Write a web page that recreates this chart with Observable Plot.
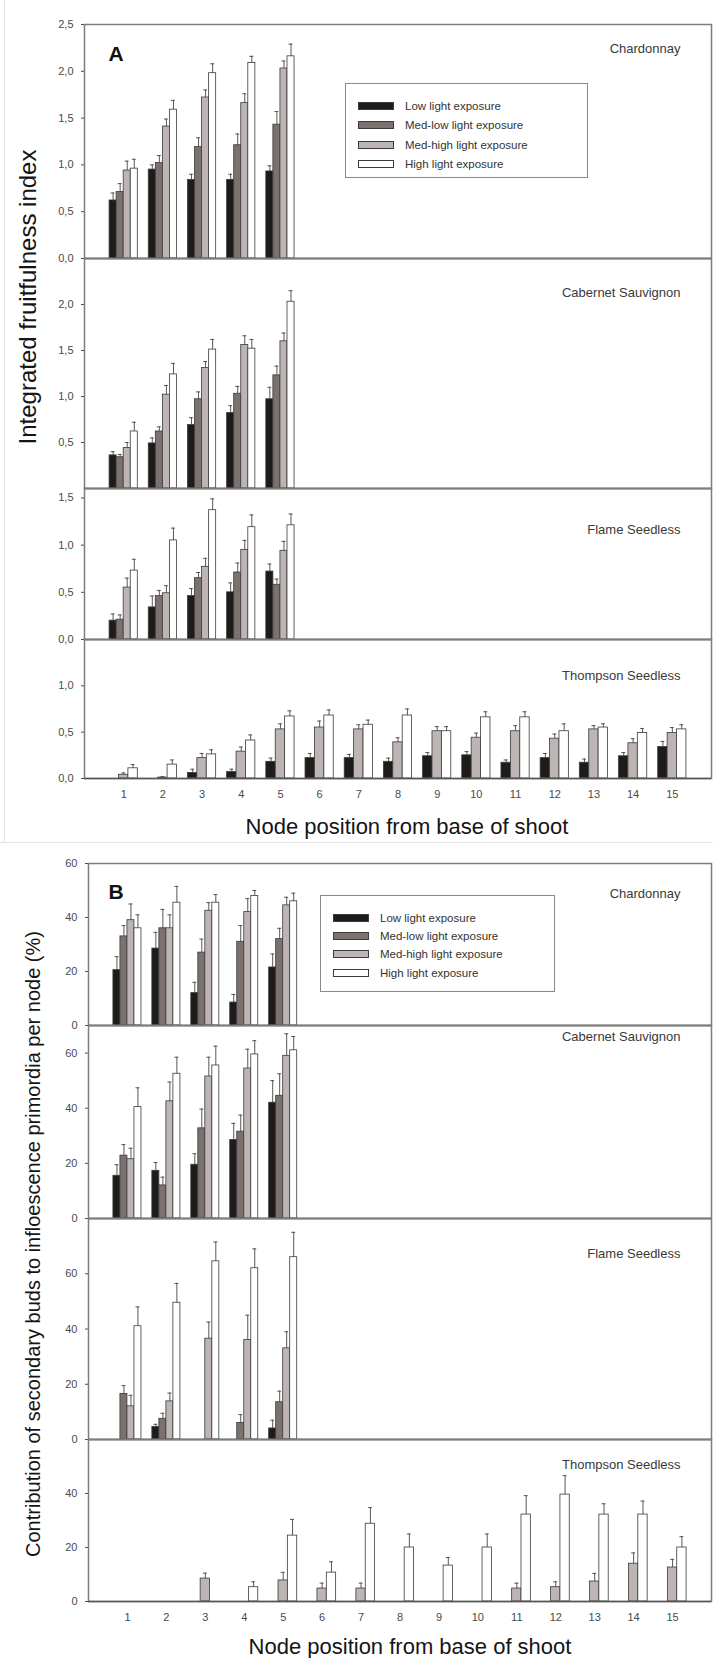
<!DOCTYPE html>
<html><head><meta charset="utf-8">
<script src="https://cdn.jsdelivr.net/npm/d3@7"></script>
<script src="https://cdn.jsdelivr.net/npm/@observablehq/plot@0.6"></script>
<style>
body{margin:0;background:#fff;font-family:"Liberation Sans",Arial,sans-serif;}
#page{position:relative;width:713px;height:1658px;overflow:hidden;background:#fff;}
.panel{position:absolute;left:0;}
.ytitle{position:absolute;white-space:nowrap;color:#151515;transform:translate(-50%,-50%) rotate(-90deg);}
.xtitle{position:absolute;white-space:nowrap;color:#151515;transform:translate(-50%,-50%);font-size:22px;}
.legend{position:absolute;border:1.5px solid #8a8a8a;background:#fff;box-sizing:border-box;}
.legend .item{position:absolute;left:12px;height:14px;display:flex;align-items:center;font-size:11.5px;color:#333;transform:translateY(-50%);}
.legend .sw{width:34px;height:6px;border:1px solid #3c3a3a;margin-right:11px;}
.sep{position:absolute;background:#e4e4e4;}
</style></head>
<body><div id="page"></div>
<script>
// ---------- data ----------
const seriesNames = ["Low light exposure","Med-low light exposure","Med-high light exposure","High light exposure"];
const seriesColors = ["#1e1b1b","#7b7270","#bdb5b3","#ffffff"];
const allSeries = [0,1,2,3];
const thompsonSeries = [0,2,3];
const nodesA = [1,2,3,4,5];
const nodesAll = [1,2,3,4,5,6,7,8,9,10,11,12,13,14,15];

// Figure A: integrated fruitfulness index
const aChardonnay = [
  [0.62,0.95,0.84,0.84,0.93],
  [0.71,1.02,1.19,1.21,1.43],
  [0.94,1.41,1.72,1.66,2.03],
  [0.96,1.59,1.98,2.09,2.16]];
const aChardonnayErr = [
  [0.08,0.05,0.06,0.06,0.06],
  [0.09,0.08,0.10,0.12,0.14],
  [0.10,0.08,0.08,0.10,0.08],
  [0.10,0.10,0.10,0.07,0.13]];
const aCabernet = [
  [0.36,0.49,0.69,0.82,0.97],
  [0.34,0.62,0.97,1.03,1.23],
  [0.44,1.02,1.31,1.56,1.60],
  [0.62,1.24,1.51,1.52,2.03]];
const aCabernetErr = [
  [0.04,0.06,0.08,0.08,0.13],
  [0.03,0.05,0.08,0.08,0.10],
  [0.06,0.10,0.07,0.10,0.09],
  [0.10,0.12,0.11,0.10,0.12]];
const aFlame = [
  [0.20,0.34,0.46,0.50,0.72],
  [0.21,0.46,0.65,0.71,0.58],
  [0.55,0.49,0.77,0.95,0.94],
  [0.73,1.05,1.37,1.19,1.21]];
const aFlameErr = [
  [0.07,0.12,0.08,0.10,0.08],
  [0.05,0.06,0.06,0.10,0.06],
  [0.10,0.08,0.09,0.10,0.10],
  [0.12,0.13,0.12,0.13,0.12]];
const aThompson = [
  [0,0,0.06,0.07,0.18,0.22,0.22,0.18,0.24,0.25,0.17,0.22,0.17,0.24,0.34],
  [0.04,0.01,0.22,0.29,0.53,0.55,0.53,0.39,0.51,0.44,0.51,0.43,0.53,0.38,0.49],
  [0.11,0.15,0.26,0.41,0.67,0.68,0.58,0.68,0.51,0.66,0.66,0.51,0.55,0.49,0.53]];
const aThompsonErr = [
  [0,0,0.04,0.03,0.04,0.05,0.04,0.04,0.04,0.04,0.03,0.05,0.04,0.04,0.06],
  [0.02,0.01,0.05,0.05,0.06,0.07,0.05,0.05,0.05,0.05,0.06,0.05,0.04,0.05,0.06],
  [0.04,0.05,0.05,0.06,0.06,0.06,0.05,0.07,0.05,0.06,0.06,0.08,0.04,0.05,0.05]];

// Figure B: contribution of secondary buds (%)
const bChardonnay = [
  [20.5,28.5,12,8.5,21.5],
  [33,36,27,31,32],
  [39,36,42.5,42,44.5],
  [36,45.5,45.5,48,46]];
const bChardonnayErr = [
  [5,6,4,3,5],
  [4,7,5,6,4],
  [6,5,3,5,3],
  [5,6,3,2,3]];
const bCabernet = [
  [15.5,17.3,19.5,28.5,42],
  [22.8,12,32.7,31.5,44.5],
  [21.5,42.5,51.5,54.4,59],
  [40.4,52.5,55.5,59.5,61]];
const bCabernetErr = [
  [4,3,4,6,8],
  [4,3,7,6,8],
  [4,7,7,7,8],
  [7,6,7,5,5]];
const bFlame = [
  [0,4.5,0,0,4],
  [16.5,7.5,0,6,13.5],
  [12,13.8,36.5,36,33],
  [41,49.5,64.5,62,66]];
const bFlameErr = [
  [0,1,0,0,3],
  [3,2,0,3,4],
  [4,3,6,9,6],
  [7,7,7,7,9]];
const bThompson = [
  [0,0,0,0,0,0,0,0,0,0,0,0,0,0,0],
  [0,0,8.5,0,7.8,4.8,4.8,0,0,0,4.8,5.3,7.4,14,12.6],
  [0,0,0,5.3,24.4,10.7,28.8,20,13.3,20,32.2,39.6,32.2,32.2,20]];
const bThompsonErr = [
  [0,0,0,0,0,0,0,0,0,0,0,0,0,0,0],
  [0,0,2,0,3,2,2,0,0,0,2,2,3,4,3],
  [0,0,0,2,6,4,6,5,3,5,7,7,4,5,4]];

const ticksA1 = [0,0.5,1,1.5,2,2.5];
const ticksA2 = [0.5,1,1.5,2];
const ticksA3 = [0,0.5,1,1.5];
const ticksA4 = [0,0.5,1];
const ticksB123 = [0,20,40,60];
const ticksB4 = [0,20,40];

const yTitleA = "Integrated fruitfulness index";
const yTitleB = "Contribution of secondary buds to infloescence primordia per node (%)";
const xTitle = "Node position from base of shoot";

// ---------- drawing ----------
const page = document.getElementById("page");
const fmtComma = d => d3.format(".1f")(d).replace(".", ",");
const fmtInt = d3.format("d");

function buildRows(values, errors, idx, nodes) {
  const n = idx.length, w = n === 4 ? 0.18 : 0.24;
  const rows = [];
  values.forEach((arr, k) => arr.forEach((v, i) => {
    const node = nodes[i];
    const x1 = node - n * w / 2 + k * w;
    rows.push({node, series: seriesNames[idx[k]], v, e: errors[k][i], x1, x2: x1 + w, xc: x1 + w / 2});
  }));
  return rows.filter(d => d.v > 0);
}

function drawPanel(c) {
  const mt = 6, mb = c.xAxis ? 34 : 6;
  const height = c.frameBottom - c.frameTop + mt + mb;
  const rows = buildRows(c.values, c.errors, c.idx, c.nodes);
  const errs = rows.filter(d => d.e > 0);
  const chart = Plot.plot({
    width: 713, height,
    marginLeft: c.marginLeft, marginRight: 2, marginTop: mt, marginBottom: mb,
    x: {domain: [0, 16], axis: null, label: null},
    y: {domain: c.yDomain, label: null},
    color: {domain: seriesNames, range: seriesColors},
    style: {fontFamily: "Liberation Sans, Arial, sans-serif", fontSize: "11px", color: "#4a4a4a", background: "transparent", overflow: "visible"},
    marks: [
      Plot.rectY(rows, {x1: "x1", x2: "x2", y1: 0, y2: "v", fill: "series", stroke: "#3c3a3a", strokeWidth: 0.8}),
      Plot.ruleX(errs, {x: "xc", y1: "v", y2: d => d.v + d.e, stroke: "#444", strokeWidth: 0.9}),
      Plot.ruleY(errs, {y: d => d.v + d.e, x1: d => d.xc - 0.05, x2: d => d.xc + 0.05, stroke: "#444", strokeWidth: 0.9}),
      Plot.axisY({ticks: c.yTicks, tickFormat: c.fmt, tickSize: 3, tickPadding: 8, fontSize: 11, label: null}),
      c.xAxis ? Plot.axisX({ticks: c.nodes, tickFormat: fmtInt, tickSize: 0, tickPadding: 12, fontSize: 11, label: null}) : null,
      Plot.frame({stroke: "#7d7d7d", strokeWidth: 1.5}),
      Plot.ruleY([0], {stroke: "#555", strokeWidth: 1.6}),
      Plot.text([c.title], {frameAnchor: "top-right", dx: -31, dy: c.titleDy, fontSize: 13, fill: "#3a3a3a"}),
      c.letter ? Plot.text([c.letter], {frameAnchor: "top-left", dx: c.letterDx, dy: c.letterDy, fontSize: 21, fontWeight: "bold", fill: "#111"}) : null
    ]
  });
  const div = document.createElement("div");
  div.className = "panel";
  div.style.top = (c.frameTop - mt) + "px";
  div.appendChild(chart);
  page.appendChild(div);
}

// separators
function sep(left, top, w, h) {
  const d = document.createElement("div"); d.className = "sep";
  Object.assign(d.style, {left: left + "px", top: top + "px", width: w + "px", height: h + "px"});
  page.appendChild(d);
}
sep(0, 842, 713, 1);
sep(4, 0, 1, 842);

// Figure A
drawPanel({values: aChardonnay, errors: aChardonnayErr, idx: allSeries, nodes: nodesA, yDomain: [0, 2.5], yTicks: ticksA1, fmt: fmtComma, frameTop: 24, frameBottom: 258, marginLeft: 84, title: "Chardonnay", titleDy: 19, letter: "A", letterDx: 24, letterDy: 22});
drawPanel({values: aCabernet, errors: aCabernetErr, idx: allSeries, nodes: nodesA, yDomain: [0, 2.5], yTicks: ticksA2, fmt: fmtComma, frameTop: 258, frameBottom: 488, marginLeft: 84, title: "Cabernet Sauvignon", titleDy: 29});
drawPanel({values: aFlame, errors: aFlameErr, idx: allSeries, nodes: nodesA, yDomain: [0, 1.6], yTicks: ticksA3, fmt: fmtComma, frameTop: 488, frameBottom: 639, marginLeft: 84, title: "Flame Seedless", titleDy: 36});
drawPanel({values: aThompson, errors: aThompsonErr, idx: thompsonSeries, nodes: nodesAll, yDomain: [0, 1.5], yTicks: ticksA4, fmt: fmtComma, frameTop: 639, frameBottom: 778, marginLeft: 84, title: "Thompson Seedless", titleDy: 31, xAxis: true});

// Figure B
drawPanel({values: bChardonnay, errors: bChardonnayErr, idx: allSeries, nodes: nodesA, yDomain: [0, 60], yTicks: ticksB123, fmt: fmtInt, frameTop: 863, frameBottom: 1025, marginLeft: 88, title: "Chardonnay", titleDy: 25, letter: "B", letterDx: 20, letterDy: 21});
drawPanel({values: bCabernet, errors: bCabernetErr, idx: allSeries, nodes: nodesA, yDomain: [0, 70], yTicks: ticksB123, fmt: fmtInt, frameTop: 1025, frameBottom: 1218, marginLeft: 88, title: "Cabernet Sauvignon", titleDy: 6});
drawPanel({values: bFlame, errors: bFlameErr, idx: allSeries, nodes: nodesA, yDomain: [0, 80], yTicks: ticksB123, fmt: fmtInt, frameTop: 1218, frameBottom: 1439, marginLeft: 88, title: "Flame Seedless", titleDy: 30});
drawPanel({values: bThompson, errors: bThompsonErr, idx: thompsonSeries, nodes: nodesAll, yDomain: [0, 60], yTicks: ticksB4, fmt: fmtInt, frameTop: 1439, frameBottom: 1601, marginLeft: 88, title: "Thompson Seedless", titleDy: 20, xAxis: true});

// legends
function legend(left, top, width, height, rowsY) {
  const box = document.createElement("div"); box.className = "legend";
  Object.assign(box.style, {left: left + "px", top: top + "px", width: width + "px", height: height + "px"});
  seriesNames.forEach((name, i) => {
    const it = document.createElement("div"); it.className = "item";
    it.style.top = rowsY[i] + "px";
    const sw = document.createElement("span"); sw.className = "sw"; sw.style.background = seriesColors[i];
    const tx = document.createElement("span"); tx.textContent = name;
    it.appendChild(sw); it.appendChild(tx); box.appendChild(it);
  });
  page.appendChild(box);
}
legend(345, 83, 243, 95, [22, 41, 61, 80]);
legend(320, 895, 235, 97, [22, 40, 58, 77]);

// titles
function label(cls, text, x, y, size) {
  const d = document.createElement("div"); d.className = cls; d.textContent = text;
  Object.assign(d.style, {left: x + "px", top: y + "px", fontSize: size + "px"});
  page.appendChild(d);
}
label("ytitle", yTitleA, 28, 297, 24);
label("ytitle", yTitleB, 33, 1244, 20);
label("xtitle", xTitle, 407, 827, 22);
label("xtitle", xTitle, 410, 1647, 22);
</script>
</body></html>
